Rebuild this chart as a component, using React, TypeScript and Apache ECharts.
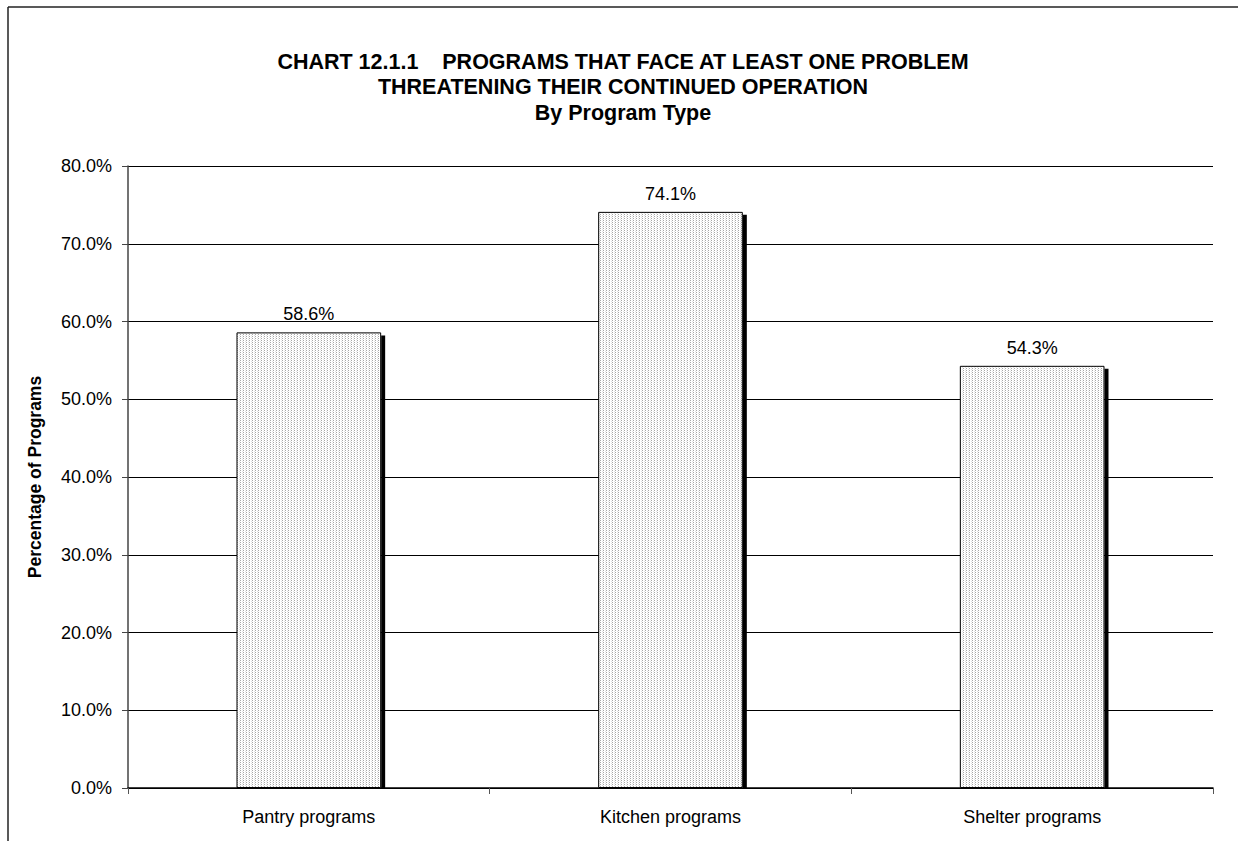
import React, { useEffect, useRef } from "react";
import * as echarts from "echarts";

const categories = ["Pantry programs", "Kitchen programs", "Shelter programs"];
const values = [58.6, 74.1, 54.3];
const titleLines = [
  "CHART 12.1.1    PROGRAMS THAT FACE AT LEAST ONE PROBLEM",
  "THREATENING THEIR CONTINUED OPERATION",
  "By Program Type",
];
const yAxisName = "Percentage of Programs";

function makePattern(): string {
  const c = document.createElement("canvas");
  c.width = 3;
  c.height = 2;
  const ctx = c.getContext("2d")!;
  ctx.fillStyle = "#ffffff";
  ctx.fillRect(0, 0, 3, 2);
  ctx.fillStyle = "#a8a8a8";
  ctx.fillRect(0, 0, 1, 1);
  ctx.fillStyle = "#e2e2e2";
  ctx.fillRect(2, 1, 1, 1);
  return c.toDataURL();
}

export default function App() {
  const ref = useRef<HTMLDivElement>(null);
  useEffect(() => {
    if (!ref.current) return;
    const chart = echarts.init(ref.current, undefined, { renderer: "svg" });
    const pattern = makePattern();
    const font = "'Liberation Sans', Arial, sans-serif";
    const BAR_RATIO = 0.4;
    chart.setOption({
      animation: false,
      backgroundColor: "#ffffff",
      textStyle: { fontFamily: font },
      title: {
        text: titleLines.join("\n"),
        left: 623,
        top: 49,
        padding: 0,
        textAlign: "center",
        textStyle: {
          fontFamily: font,
          fontWeight: "bold",
          fontSize: 21.5,
          lineHeight: 25.5,
          color: "#000",
        },
      },
      graphic: [
        { type: "line", shape: { x1: 8, y1: 7, x2: 1238, y2: 7 }, style: { stroke: "#222", lineWidth: 1.5 } },
        { type: "line", shape: { x1: 8, y1: 7, x2: 8, y2: 841 }, style: { stroke: "#222", lineWidth: 1.5 } },
      ],
      grid: { left: 128, right: 25, top: 166, bottom: 53, containLabel: false },
      xAxis: {
        type: "category",
        data: categories,
        axisLine: { lineStyle: { color: "#000", width: 1.5 } },
        axisTick: { show: true, length: 6, lineStyle: { color: "#555" } },
        axisLabel: { color: "#000", fontSize: 18, margin: 20, fontFamily: font },
      },
      yAxis: {
        type: "value",
        min: 0,
        max: 80,
        interval: 10,
        name: yAxisName,
        nameLocation: "middle",
        nameGap: 84,
        nameRotate: 90,
        nameTextStyle: { fontWeight: "bold", fontSize: 17.5, color: "#000", fontFamily: font },
        axisLine: { show: true, lineStyle: { color: "#444", width: 1.5 } },
        axisTick: { show: true, length: 6, lineStyle: { color: "#444" } },
        axisLabel: {
          color: "#000",
          fontSize: 18,
          margin: 16,
          fontFamily: font,
          formatter: (v: number) => v.toFixed(1) + "%",
        },
        splitLine: { show: true, lineStyle: { color: "#000", width: 1 } },
      },
      series: [
        {
          type: "custom",
          z: 1,
          silent: true,
          data: values.map((v, i) => [i, v]),
          renderItem: (params: any, api: any) => {
            const top = api.coord([api.value(0), api.value(1)]);
            const base = api.coord([api.value(0), 0]);
            const w = api.size([1, 0])[0] * BAR_RATIO;
            const x = top[0] + w / 2;
            return {
              type: "rect",
              shape: { x: x, y: top[1] + 3, width: 4, height: base[1] - top[1] - 3 },
              style: { fill: "#000" },
            };
          },
        },
        {
          type: "bar",
          z: 2,
          data: values,
          barWidth: BAR_RATIO * 100 + "%",
          itemStyle: {
            color: { image: pattern, repeat: "repeat" },
            borderColor: "#000",
            borderWidth: 1,
          },
          label: {
            show: true,
            position: "top",
            distance: 9,
            color: "#000",
            fontSize: 18,
            fontFamily: font,
            formatter: (p: any) => p.value.toFixed(1) + "%",
          },
        },
      ],
    });
    return () => chart.dispose();
  }, []);
  return (
    <div
      ref={ref}
      style={{ position: "fixed", left: 0, top: 0, width: 1238, height: 841 }}
    />
  );
}
